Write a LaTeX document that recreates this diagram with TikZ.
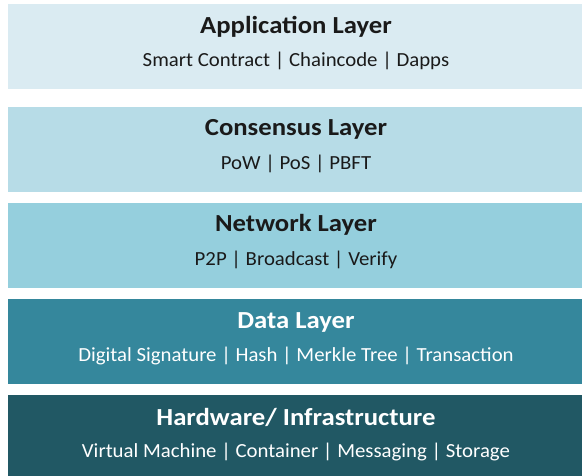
\documentclass[tikz,border=0pt]{standalone}
\usepackage{fontspec}
\setmainfont{Carlito}
% slightly widened faces for the layer captions
\newfontfamily\titlefont[FakeStretch=1.09]{Carlito}
\newfontfamily\subfont[FakeStretch=1.04]{Carlito}

\definecolor{appfill}{HTML}{DAEBF2}
\definecolor{consfill}{HTML}{B7DCE7}
\definecolor{netfill}{HTML}{95CFDD}
\definecolor{datafill}{HTML}{35879C}
\definecolor{hwfill}{HTML}{215864}
\definecolor{darktext}{HTML}{1A1A1A}

\tikzset{
  layerbox/.style={rectangle, draw=none, inner sep=0pt, anchor=north west,
    minimum width=574pt},
  layertitle/.style={anchor=base, inner sep=0pt,
    font=\titlefont\fontsize{24.5}{28}\selectfont\bfseries},
  layersub/.style={anchor=base, inner sep=0pt,
    font=\subfont\fontsize{20}{24}\selectfont},
}

\begin{document}
\begin{tikzpicture}[x=1pt, y=-1pt]
\useasboundingbox (0,0) rectangle (582,476);

% Application layer
\node[layerbox, fill=appfill, minimum height=84.7pt] (app) at (8,4) {};
\node[layertitle, text=darktext] (appT) at (296,33.3) {Application Layer};
\node[layersub, text=darktext] (appS) at (296,66.7) {Smart Contract | Chaincode | Dapps};

% Consensus layer
\node[layerbox, fill=consfill, minimum height=85pt] (cons) at (8,106.7) {};
\node[layertitle, text=darktext] (consT) at (296,136) {Consensus Layer};
\node[layersub, text=darktext] (consS) at (296,169.4) {PoW | PoS | PBFT};

% Network layer
\node[layerbox, fill=netfill, minimum height=85.3pt] (net) at (8,202.7) {};
\node[layertitle, text=darktext] (netT) at (296,232) {Network Layer};
\node[layersub, text=darktext] (netS) at (296,265.4) {P2P | Broadcast | Verify};

% Data layer
\node[layerbox, fill=datafill, minimum height=85pt] (data) at (8,299) {};
\node[layertitle, text=white] (dataT) at (296,328.3) {Data Layer};
\node[layersub, text=white] (dataS) at (296,361.7) {Digital Signature | Hash | Merkle Tree | Transaction};

% Hardware / infrastructure
\node[layerbox, fill=hwfill, minimum height=81pt] (hw) at (8,395) {};
\node[layertitle, text=white] (hwT) at (296,425) {Hardware/ Infrastructure};
\node[layersub, text=white] (hwS) at (296,457.3) {Virtual Machine | Container | Messaging | Storage};
\end{tikzpicture}
\end{document}
